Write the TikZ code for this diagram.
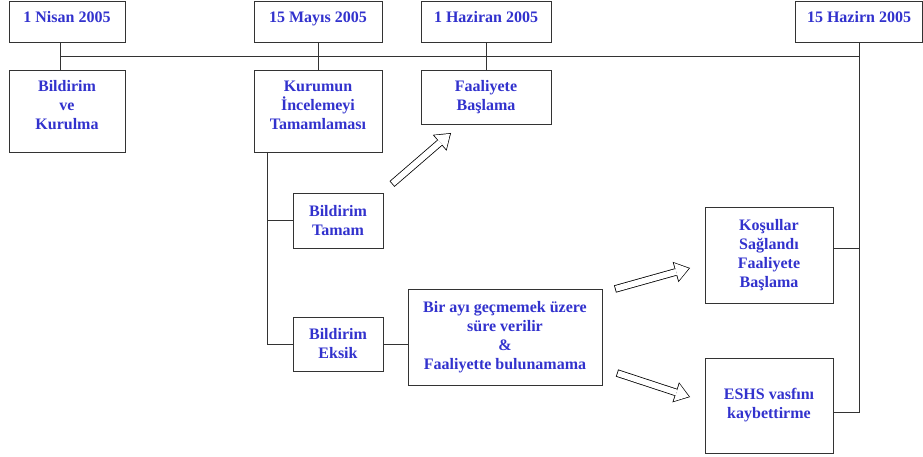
\documentclass[tikz,border=0pt]{standalone}
\usepackage{fontspec}
\setmainfont{Liberation Serif}
\usetikzlibrary{arrows.meta}

\definecolor{labelblue}{RGB}{50,50,205}

\tikzset{
  box/.style={draw=black!80, line width=0.8pt, align=center, inner sep=2pt,
    text=labelblue, font=\fontsize{16pt}{19pt}\selectfont\bfseries},
  datebox/.style={box, minimum height=41pt, text height=8pt, text depth=6.4pt},
  link/.style={draw=black!80, line width=0.8pt},
  hollow/.style={draw=black, line width=7.5pt,
    -{Triangle[length=15pt,width=21pt,line width=0pt]},
    postaction={draw=white, line width=5.9pt, shorten <=0.8pt, shorten >=1.3pt,
      -{Triangle[length=12.9pt,width=18.3pt,line width=0pt]}}}
}

\begin{document}
\begin{tikzpicture}[x=1pt,y=-1pt]
  \useasboundingbox (0,0) rectangle (923,457);

  \node[datebox, minimum width=116pt] (nisan)   at (67,21.5)  {1 Nisan 2005};
  \node[datebox, minimum width=128pt] (mayis)   at (318,21.5) {15 Mayıs 2005};
  \node[datebox, minimum width=130pt] (haziran) at (486,21.5) {1 Haziran 2005};
  \node[datebox, minimum width=127pt] (hazirn)  at (859,21.5) {15 Hazirn 2005};

  \node[box, minimum width=116pt, minimum height=82pt, text depth=12pt] (kurulma) at (67,111)  {Bildirim\\ve\\Kurulma};
  \node[box, minimum width=128pt, minimum height=82pt, text depth=12pt] (kurumun) at (318,111) {Kurumun\\İncelemeyi\\Tamamlaması};
  \node[box, minimum width=130pt, minimum height=54pt] (baslama)  at (486,97)    {Faaliyete\\Başlama};
  \node[box, minimum width=90pt,  minimum height=55pt] (tamam)    at (338,220.5) {Bildirim\\Tamam};
  \node[box, minimum width=90pt,  minimum height=54pt] (eksik)    at (338,344)   {Bildirim\\Eksik};
  \node[box, minimum width=194pt, minimum height=96pt] (sure)     at (505,337)   {Bir ayı geçmemek üzere\\süre verilir\\\&\\Faaliyette bulunamama};
  \node[box, minimum width=128pt, minimum height=96pt] (kosullar) at (769,255)   {Koşullar\\Sağlandı\\Faaliyete\\Başlama};
  \node[box, minimum width=128pt, minimum height=95pt] (eshs)     at (769,405.5) {ESHS vasfını\\kaybettirme};

  \coordinate (lineL) at (60,56);
  \coordinate (lineR) at (859,56);
  \coordinate (branch) at (267,152);

  \draw[link] (lineL) -- (lineR);
  \draw[link] (nisan.south -| lineL) -- (kurulma.north -| lineL);
  \draw[link] (mayis) -- (kurumun);
  \draw[link] (haziran) -- (baslama);
  \draw[link] (hazirn.south) |- ([yshift=-6.5pt]eshs.east);
  \draw[link] ([yshift=7pt]kosullar.east) -- ([yshift=7pt]kosullar.east -| hazirn.south);
  \draw[link] (branch) |- (eksik.west);
  \draw[link] (branch |- tamam.west) -- (tamam.west);
  \draw[link] (eksik.east) -- (eksik.east -| sure.west);

  \coordinate (up1) at (392,184);
  \coordinate (up2) at (451,133);
  \coordinate (ok1) at (615,289);
  \coordinate (ok2) at (690,268);
  \coordinate (no1) at (617,373);
  \coordinate (no2) at (690,397);

  \draw[hollow] (up1) -- (up2);
  \draw[hollow] (ok1) -- (ok2);
  \draw[hollow] (no1) -- (no2);
\end{tikzpicture}
\end{document}
